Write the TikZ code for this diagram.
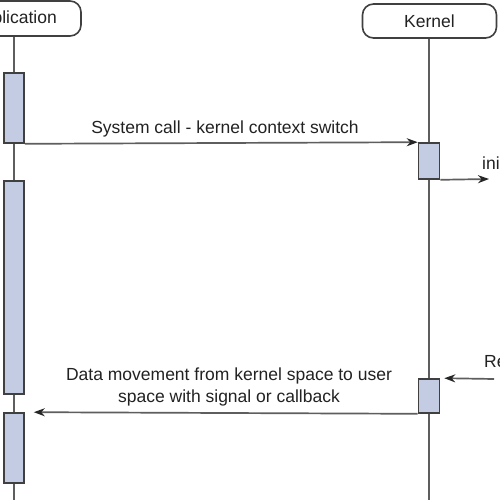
\documentclass[tikz,border=0pt]{standalone}
\usepackage{fontspec}
\setmainfont{Liberation Sans}
\usetikzlibrary{arrows.meta}
\definecolor{linegray}{HTML}{5E5E5E}
\definecolor{boxfill}{HTML}{C4CCE4}
\definecolor{boxdraw}{HTML}{404040}
\definecolor{txt}{HTML}{222222}
\begin{document}
\begin{tikzpicture}[x=1pt,y=-1pt,
  font=\fontsize{17.5}{21.5}\selectfont, text=txt,
  header/.style={draw=boxdraw, line width=1.6pt, rounded corners=11pt, fill=white,
    minimum width=134pt, minimum height=35pt, inner sep=0pt},
  act/.style={draw=boxdraw, fill=boxfill, line width=1.6pt, minimum width=20pt, inner sep=0pt},
  life/.style={draw=linegray, line width=1.7pt},
  msg/.style={draw=linegray, line width=1.7pt, -{Stealth[length=11pt,width=8pt,color=black!85]}},
  lbl/.style={inner sep=0pt}]
\useasboundingbox (0,0) rectangle (500,500);
\fill[white] (0,0) rectangle (500,500);
% headers
\node[header] (app) at (14,18.5) {Application};
\node[header, minimum height=34pt] (ker) at (429.5,21) {Kernel};
\coordinate (append) at (14,500);
\coordinate (kerend) at (429,500);
\draw[life] (app.south) -- (append);
\draw[life] (ker.south -| kerend) -- (kerend);
% activations
\node[act, minimum height=70pt] (a1) at (14,108) {};
\node[act, minimum height=213pt] (a2) at (14,287.5) {};
\node[act, minimum height=70pt] (a3) at (14,448) {};
\node[act, minimum width=21pt, minimum height=36pt] (k1) at (429,161) {};
\node[act, minimum width=21pt, minimum height=34pt] (k2) at (429,396) {};
% messages
\draw[msg] (a1.south east) -- (k1.north west);
\node[lbl, anchor=base] (l1) at (225,133) {System call - kernel context switch};
\coordinate (iniend) at (489,179);
\draw[msg] (k1.south east) -- (iniend);
\node[lbl, anchor=base west] (ini) at (482,169) {ini};
\coordinate (restart) at (494,379);
\draw[msg] (restart) -- ([xshift=4pt]k2.north east);
\node[lbl, anchor=base west] (re) at (484,367) {Re};
\draw[msg] (k2.south west) -- ([xshift=9pt]a3.north east);
\node[lbl, anchor=base, align=center] (l2) at (229,402) {Data movement from kernel space to user\\space with signal or callback};
\end{tikzpicture}
\end{document}
